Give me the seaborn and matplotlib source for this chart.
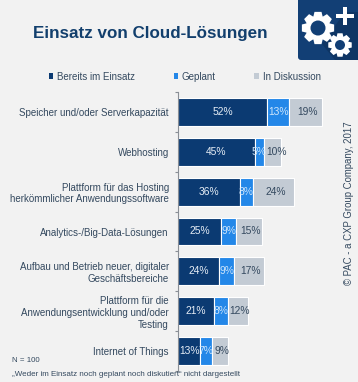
import numpy as np
import pandas as pd
import matplotlib
matplotlib.use('Agg')
import matplotlib.pyplot as plt
from matplotlib.patches import FancyBboxPatch, Polygon, Circle, Rectangle
import seaborn as sns

# Werte
categories = [
    'Speicher und/oder Serverkapazität',
    'Webhosting',
    'Plattform für das Hosting\nherkömmlicher Anwendungssoftware',
    'Analytics-/Big-Data-Lösungen',
    'Aufbau und Betrieb neuer, digitaler\nGeschäftsbereiche',
    'Plattform für die\nAnwendungsentwicklung und/oder\nTesting',
    'Internet of Things',
]
im_einsatz = [52, 45, 36, 25, 24, 21, 13]
geplant = [13, 5, 8, 9, 9, 8, 7]
diskussion = [19, 10, 24, 15, 17, 12, 9]
series_names = ['Bereits im Einsatz', 'Geplant', 'In Diskussion']

BG = '#f2f2f2'
NAVY = '#0b3a72'
BLUE = '#2387e8'
GREY = '#c3cbd4'
TEXT = '#34495f'

sns.set_style('white')
plt.rcParams['font.family'] = ['Liberation Sans', 'DejaVu Sans']

W, H = 358, 382
fig = plt.figure(figsize=(W / 100, H / 100), dpi=100, facecolor=BG)
ax = fig.add_axes([178 / W, 1 - 371 / H, 171 / W, 279 / H], facecolor='none')

df = pd.DataFrame({'cat': categories, 'a': im_einsatz, 'b': geplant, 'c': diskussion})
left = np.zeros(len(df))
for col, name, color, txt in zip(['a', 'b', 'c'], series_names, [NAVY, BLUE, GREY],
                                 ['#e6edf5', '#cfe6fb', TEXT]):
    sns.barplot(data=df, x=col, y='cat', order=categories, color=color, saturation=1,
                width=0.7, left=left, edgecolor='white', linewidth=0.8, label=name, ax=ax)
    labels = ax.bar_label(ax.containers[-1], labels=[f'{v}%' for v in df[col]], label_type='center',
                          color=txt, fontsize=7.4)
    left = left + df[col].values

# Grau-Beschriftungen sitzen im Original etwas rechts der Mitte
for i, t in enumerate(labels):
    t.xyann = (3.5 if i == 1 else 1.2, t.xyann[1])

ax.set_xlim(0, 100)
ax.set_ylim(6.5, -0.5)
ax.set(xlabel='', ylabel='')
ax.xaxis.set_visible(False)
sns.despine(ax=ax, top=True, right=True, bottom=True)
ax.spines['left'].set_color('#8a8f96')
ax.spines['left'].set_linewidth(0.8)
ax.tick_params(axis='y', which='major', length=0, pad=6.5, labelsize=7, labelcolor=TEXT)
ax.set_yticks(np.arange(-0.5, 7), minor=True)
ax.tick_params(axis='y', which='minor', left=True, length=2.5, width=0.8, color='#8a8f96')
for lab in ax.get_yticklabels():
    lab.set_linespacing(1.2)

leg = ax.legend(loc='center left', bbox_to_anchor=(49 / W, 1 - 76.5 / H), bbox_transform=fig.transFigure,
                ncol=3, frameon=False, fontsize=7, labelcolor=TEXT, handlelength=0.45, handleheight=0.45,
                handletextpad=0.4, columnspacing=3.95, borderpad=0, borderaxespad=0)
for h in leg.legend_handles:
    h.set_linewidth(0)

# Overlay in Pixelkoordinaten fuer Titel, Fussnoten und Icon
ov = fig.add_axes([0, 0, 1, 1], facecolor='none')
ov.set_xlim(0, W)
ov.set_ylim(H, 0)
ov.axis('off')
ov.text(33, 33.5, 'Einsatz von Cloud-Lösungen', fontsize=12.25, fontweight='bold', color='#123f6d',
        ha='left', va='center')
ov.text(12, 361, 'N = 100', fontsize=5.7, color=TEXT, ha='left', va='center')
ov.text(12, 375, '„Weder im Einsatz noch geplant noch diskutiert“ nicht dargestellt', fontsize=5.75,
        color=TEXT, ha='left', va='center')
ov.text(349, 203, '© PAC - a CXP Group Company, 2017', fontsize=6.9, color=TEXT, rotation=90,
        ha='center', va='center')


def gear(cx, cy, r_out, r_in, teeth, hole):
    pts = []
    step = 2 * np.pi / teeth
    for i in range(teeth):
        a = i * step
        for da, r in [(-0.30, r_in), (-0.17, r_out), (0.17, r_out), (0.30, r_in)]:
            pts.append((cx + r * np.cos(a + da * step * 1.6), cy + r * np.sin(a + da * step * 1.6)))
    ov.add_patch(Polygon(pts, closed=True, fc='white', ec='none', zorder=4))
    ov.add_patch(Circle((cx, cy), hole, fc='#123f75', ec='none', zorder=5))


ov.add_patch(FancyBboxPatch((298, -6), 63, 66, boxstyle='round,pad=0,rounding_size=3', fc='#123f75',
                            ec='none', zorder=2))
ov.add_patch(Polygon([(322, 44), (345, 12), (358, 12), (358, 60), (335, 60)], closed=True, fc='#0e3564',
                     ec='none', zorder=3))
gear(318, 28, 16.5, 12.5, 8, 7.5)
gear(340, 45, 12, 9, 8, 5)
ov.add_patch(Rectangle((336, 14), 18, 3.6, fc='white', ec='none', zorder=4))
ov.add_patch(Rectangle((343.2, 7), 3.6, 17.5, fc='white', ec='none', zorder=4))

fig.savefig('out.png', dpi=100, facecolor=BG)
